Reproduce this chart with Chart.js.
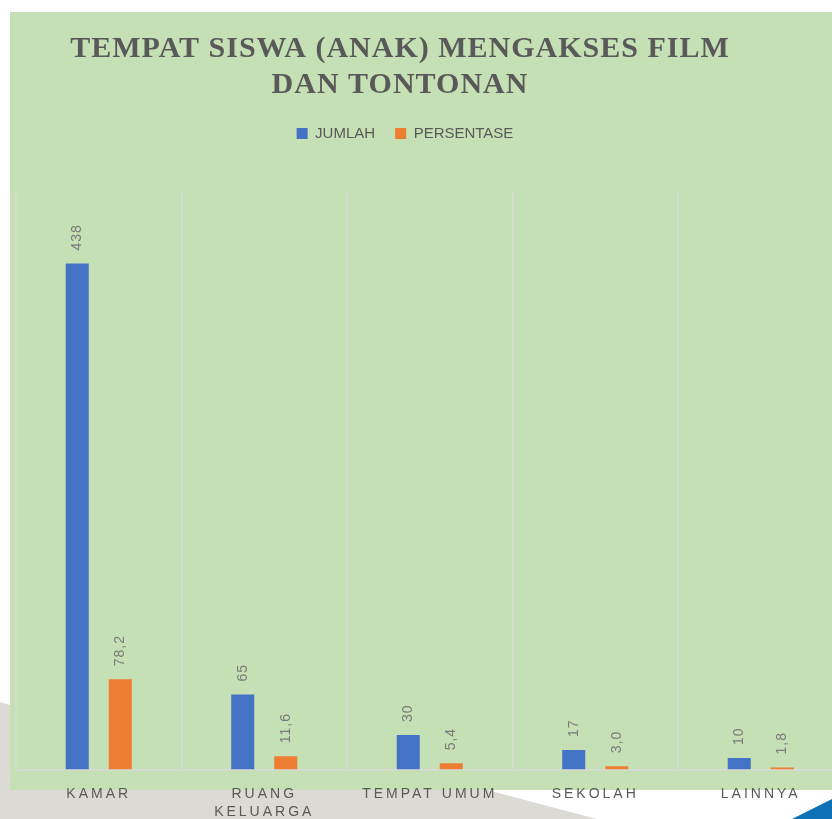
<!DOCTYPE html>
<html>
<head>
<meta charset="utf-8">
<script src="https://cdn.jsdelivr.net/npm/chart.js@4.4.1/dist/chart.umd.min.js"></script>
<style>
  html, body { margin:0; padding:0; width:832px; height:819px; overflow:hidden; background:#fff; }
  .deco { position:absolute; left:0; top:0; width:832px; height:819px; }
  .grey { background:#dbdad5; clip-path:polygon(0 702px, 10px 705px, 487px 790px, 597px 819px, 0 819px); }
  .corner { background:#0d72b8; clip-path:polygon(792px 819px, 832px 799px, 832px 819px); }
  .panel { position:absolute; left:10px; top:12px; width:822px; height:778px; background:#c5e0b4; }
  #wrap { position:absolute; left:0; top:0; width:860px; height:819px; }
</style>
</head>
<body>
<div class="deco grey"></div>
<div class="panel"></div>
<div class="deco corner"></div>
<div id="wrap"><canvas id="chart"></canvas></div>
<script>
const categories = ['KAMAR', ['RUANG', 'KELUARGA'], 'TEMPAT UMUM', 'SEKOLAH', 'LAINNYA'];
const jumlah = [438, 65, 30, 17, 10];
const persentase = [78.2, 11.6, 5.4, 3.0, 1.8];

const TEXT = '#595959';

// letter spaced text for the title and the category labels
function spaced(fn, spacing){
  return function(...args){
    const ctx = this.ctx;
    ctx.save();
    ctx.letterSpacing = spacing;
    fn.apply(this, args);
    ctx.restore();
  };
}

const tweaks = {
  id: 'tweaks',
  beforeLayout(chart){
    // extra room between legend and plot
    const lg = chart.legend;
    if(lg && !lg._grown){
      const fit = lg.fit;
      lg.fit = function(){ fit.call(this); this.height += 41; };
      lg._grown = true;
    }
  },
  afterLayout(chart){
    // title and legend sit a little left of the plot centre
    chart.titleBlock.left = 0; chart.titleBlock.right = 800;
    chart.legend.left = 0; chart.legend.right = 810;
  },
  afterUpdate(chart){
    const x = chart.scales.x;
    if(!x._spaced){ x.drawLabels = spaced(x.drawLabels, '3px'); x._spaced = true; }
    const t = chart.titleBlock;
    if(!t._spaced){ t.draw = spaced(t.draw, '1px'); t._spaced = true; }
  },
  afterDatasetsDraw(chart){
    const ctx = chart.ctx;
    ctx.save();
    ctx.font = '14px "Liberation Sans"';
    ctx.fillStyle = '#7a7a7a';
    ctx.letterSpacing = '1px';
    ctx.textAlign = 'left';
    ctx.textBaseline = 'middle';
    chart.data.datasets.forEach((ds, i) => {
      chart.getDatasetMeta(i).data.forEach((bar, j) => {
        const v = ds.data[j];
        const txt = i === 0 ? String(v) : v.toFixed(1).replace('.', ',');
        ctx.save();
        ctx.translate(bar.x, bar.y - 13);
        ctx.rotate(-Math.PI / 2);
        ctx.fillText(txt, 0, 0);
        ctx.restore();
      });
    });
    ctx.restore();
  }
};

new Chart(document.getElementById('chart'), {
  type: 'bar',
  data: {
    labels: categories,
    datasets: [
      { label: 'JUMLAH', data: jumlah, backgroundColor: '#4472c4', categoryPercentage: 0.52, barPercentage: 0.535 },
      { label: 'PERSENTASE', data: persentase, backgroundColor: '#ed7d31', categoryPercentage: 0.52, barPercentage: 0.535 }
    ]
  },
  options: {
    responsive: true,
    maintainAspectRatio: false,
    animation: false,
    layout: { padding: { left: 16, right: 16.5, top: 0, bottom: -17 } },
    plugins: {
      title: {
        display: true,
        text: ['TEMPAT SISWA (ANAK) MENGAKSES FILM', 'DAN TONTONAN'],
        color: TEXT,
        font: { family: '"Liberation Serif"', size: 30, weight: 'bold', lineHeight: 1.2 },
        padding: { top: 31, bottom: 3 }
      },
      legend: {
        display: true,
        labels: {
          color: TEXT,
          font: { family: '"Liberation Sans"', size: 15 },
          boxWidth: 11,
          boxHeight: 11,
          padding: 20
        }
      },
      tooltip: { enabled: false }
    },
    scales: {
      x: {
        grid: { color: '#d9d9d9', lineWidth: 1.5, drawTicks: false },
        border: { color: '#d9d9d9', width: 1.5 },
        ticks: {
          color: TEXT,
          font: { family: '"Liberation Sans"', size: 14, lineHeight: 1.3 },
          padding: 15,
          maxRotation: 0,
          autoSkip: false
        }
      },
      y: {
        display: false,
        min: 0,
        max: 500
      }
    }
  },
  plugins: [tweaks]
});
</script>
</body>
</html>
